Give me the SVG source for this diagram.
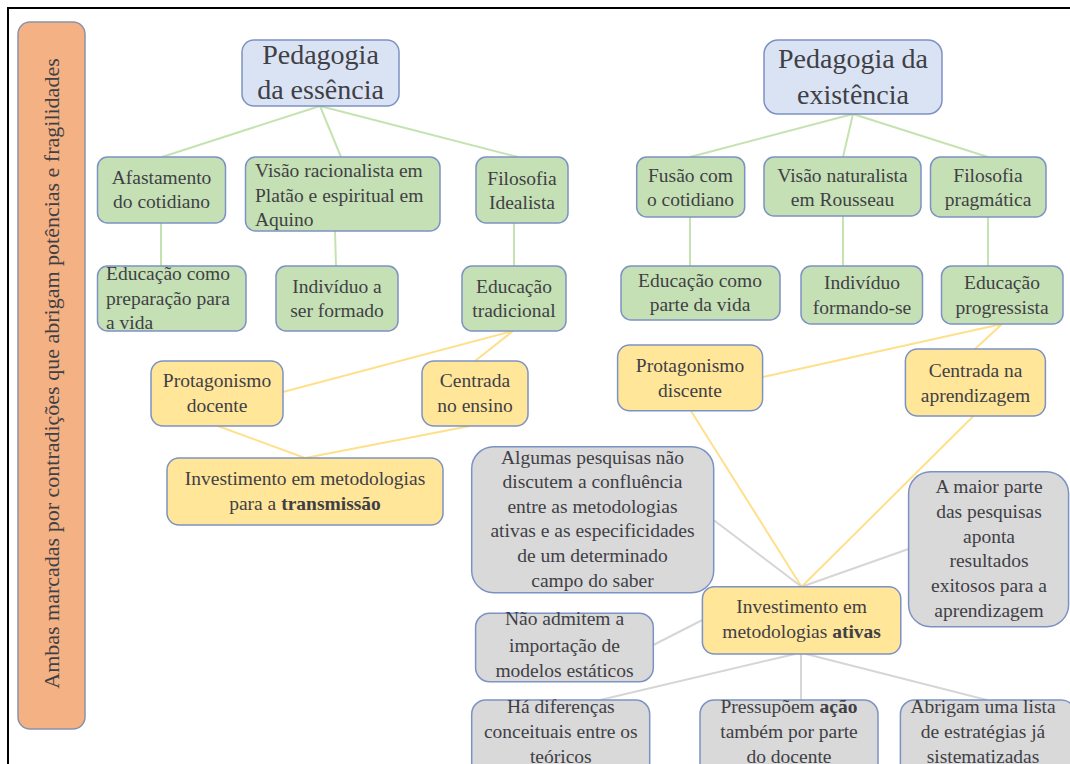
<svg xmlns="http://www.w3.org/2000/svg" width="1070" height="764" viewBox="0 0 1070 764">
<style>
text{font-family:"Liberation Serif","DejaVu Serif",serif;fill:#3f4046;font-size:19.5px}
.c{text-anchor:middle}
.t{font-size:28px}
.b{font-weight:bold}
.blue{fill:#dae3f3;stroke:#7d92c4;stroke-width:1.5}
.green{fill:#c5e0b4;stroke:#7d92c4;stroke-width:1.5}
.yel{fill:#ffe699;stroke:#7d92c4;stroke-width:1.5}
.gray{fill:#d9d9d9;stroke:#7d92c4;stroke-width:1.5}
.lg{stroke:#c5e3b0;stroke-width:2;fill:none}
.ly{stroke:#ffe08a;stroke-width:2;fill:none}
.lgr{stroke:#d6d6d6;stroke-width:2;fill:none}
</style>
<rect width="1070" height="764" fill="#fff"/>
<rect x="8" y="8" width="1100" height="800" fill="none" stroke="#000" stroke-width="2"/>
<g id="side">
<rect x="18" y="22" width="67" height="707" rx="12" fill="#f4b183" stroke="#8a93aa" stroke-width="1.5"/>
<text transform="translate(59,373.5) rotate(-90)" class="c" style="font-size:22px">Ambas marcadas por contradições que abrigam potências e fragilidades</text>
</g>
<g id="connectors">
<path class="lg" d="M320,106L162,157M320,106L341,157M320,106L518,157M161,223L161,266M335,231L336,266M514,223L514,266M853,114L690,157M853,114L843,157M853,114L988,157M690,217L690,266M843,216L843,266M988,217L988,266"/>
<path class="ly" d="M513,331L283,392M513,331L475,361M218,426L305,458M470,426L305,458M1002,324L763,377M1002,324L975,349M691,411L801.6,586.7M973.5,416L801.6,586.7"/>
<path class="lgr" d="M713.6,520L801.6,586.7M908.6,549L801.6,586.7M702.4,620L653.3,645M795,654L600,700M801,654L801,700M806,654L987,700"/>
</g>
<g id="n-essencia"><rect class="blue" x="242" y="40" width="157" height="66" rx="12"/><text class="c t" x="320.5" y="64">Pedagogia</text><text class="c t" x="320.5" y="99">da essência</text></g>
<g id="n-existencia"><rect class="blue" x="764" y="40" width="178" height="74" rx="14"/><text class="c t" x="853" y="68">Pedagogia da</text><text class="c t" x="853" y="104">existência</text></g>
<g id="n-afastamento"><rect class="green" x="97.5" y="157" width="128" height="66" rx="10"/><text class="c" x="161.5" y="184">Afastamento</text><text class="c" x="161.5" y="208">do cotidiano</text></g>
<g id="n-visao-rac"><rect class="green" x="245.5" y="157" width="194.5" height="74" rx="10"/><text x="255" y="177">Visão racionalista em</text><text x="255" y="201.5">Platão e espiritual em</text><text x="255" y="226">Aquino</text></g>
<g id="n-fil-ideal"><rect class="green" x="476" y="157" width="92" height="66" rx="10"/><text class="c" x="522" y="185">Filosofia</text><text class="c" x="522" y="209">Idealista</text></g>
<g id="n-edu-prep"><rect class="green" x="97.5" y="266" width="148.5" height="65" rx="10"/><text x="106" y="280">Educação como</text><text x="106" y="304.5">preparação para</text><text x="106" y="329">a vida</text></g>
<g id="n-individuo-a"><rect class="green" x="276" y="266" width="122" height="65" rx="10"/><text class="c" x="337" y="293">Indivíduo a</text><text class="c" x="337" y="317">ser formado</text></g>
<g id="n-edu-trad"><rect class="green" x="462" y="266" width="104" height="65" rx="10"/><text class="c" x="514" y="293">Educação</text><text class="c" x="514" y="317">tradicional</text></g>
<g id="n-fusao"><rect class="green" x="636.7" y="157" width="108" height="60" rx="10"/><text class="c" x="690.5" y="182">Fusão com</text><text class="c" x="690.5" y="206">o cotidiano</text></g>
<g id="n-visao-nat"><rect class="green" x="764" y="157" width="157" height="59" rx="10"/><text class="c" x="842.5" y="182">Visão naturalista</text><text class="c" x="842.5" y="206">em Rousseau</text></g>
<g id="n-fil-prag"><rect class="green" x="930.5" y="157" width="115.5" height="60" rx="10"/><text class="c" x="988" y="182">Filosofia</text><text class="c" x="988" y="206">pragmática</text></g>
<g id="n-edu-parte"><rect class="green" x="621" y="266" width="159" height="54" rx="10"/><text class="c" x="700" y="287">Educação como</text><text class="c" x="700" y="311">parte da vida</text></g>
<g id="n-individuo-f"><rect class="green" x="801" y="266" width="121.5" height="58" rx="10"/><text class="c" x="862" y="289">Indivíduo</text><text class="c" x="862" y="314">formando-se</text></g>
<g id="n-edu-prog"><rect class="green" x="941.5" y="266" width="121.5" height="58" rx="10"/><text class="c" x="1002" y="289">Educação</text><text class="c" x="1002" y="314">progressista</text></g>
<g id="n-prot-doc"><rect class="yel" x="151" y="361" width="132" height="65" rx="12"/><text class="c" x="217" y="387">Protagonismo</text><text class="c" x="217" y="412">docente</text></g>
<g id="n-centr-ens"><rect class="yel" x="422" y="361" width="106" height="65" rx="12"/><text class="c" x="475" y="387">Centrada</text><text class="c" x="475" y="412">no ensino</text></g>
<g id="n-inv-trans"><rect class="yel" x="167" y="458" width="276" height="67" rx="12"/><text class="c" x="305" y="485">Investimento em metodologias</text><text class="c" x="305" y="510">para a <tspan class="b">transmissão</tspan></text></g>
<g id="n-prot-disc"><rect class="yel" x="617.6" y="345" width="145" height="65.7" rx="12"/><text class="c" x="690" y="372">Protagonismo</text><text class="c" x="690" y="397">discente</text></g>
<g id="n-centr-apr"><rect class="yel" x="905.4" y="349" width="140" height="67" rx="12"/><text class="c" x="975.5" y="377">Centrada na</text><text class="c" x="975.5" y="402">aprendizagem</text></g>
<g id="n-inv-ativ"><rect class="yel" x="702.4" y="586.7" width="198.4" height="67.3" rx="12"/><text class="c" x="801.6" y="613">Investimento em</text><text class="c" x="801.6" y="638">metodologias <tspan class="b">ativas</tspan></text></g>
<g id="n-algumas"><rect class="gray" x="471.7" y="446.7" width="242" height="146" rx="22"/><text class="c" x="592.5" y="463.5">Algumas pesquisas não</text><text class="c" x="592.5" y="488">discutem a confluência</text><text class="c" x="592.5" y="512.7">entre as metodologias</text><text class="c" x="592.5" y="537.3">ativas e as especificidades</text><text class="c" x="592.5" y="562">de um determinado</text><text class="c" x="592.5" y="586.7">campo do saber</text></g>
<g id="n-maior"><rect class="gray" x="908.6" y="471.7" width="160" height="155" rx="22"/><text class="c" x="989" y="493">A maior parte</text><text class="c" x="989" y="518">das pesquisas</text><text class="c" x="989" y="543">aponta</text><text class="c" x="989" y="567">resultados</text><text class="c" x="989" y="592">exitosos para a</text><text class="c" x="989" y="617">aprendizagem</text></g>
<g id="n-nao-admitem"><rect class="gray" x="475.6" y="613.3" width="177.7" height="68.4" rx="14"/><text class="c" x="564.5" y="625">Não admitem a</text><text class="c" x="564.5" y="651.5">importação de</text><text class="c" x="564.5" y="677">modelos estáticos</text></g>
<g id="n-ha-dif"><rect class="gray" x="471.7" y="700" width="178" height="80" rx="14"/><text class="c" x="560.8" y="713">Há diferenças</text><text class="c" x="560.8" y="738">conceituais entre os</text><text class="c" x="560.8" y="763">teóricos</text></g>
<g id="n-pressupoem"><rect class="gray" x="700" y="700" width="178" height="80" rx="14"/><text class="c" x="789" y="713">Pressupõem <tspan class="b">ação</tspan></text><text class="c" x="789" y="738">também por parte</text><text class="c" x="789" y="763">do docente</text></g>
<g id="n-abrigam"><rect class="gray" x="900.4" y="700" width="175" height="80" rx="14"/><text class="c" x="983" y="713">Abrigam uma lista</text><text class="c" x="983" y="738">de estratégias já</text><text class="c" x="983" y="763">sistematizadas</text></g>
</svg>
